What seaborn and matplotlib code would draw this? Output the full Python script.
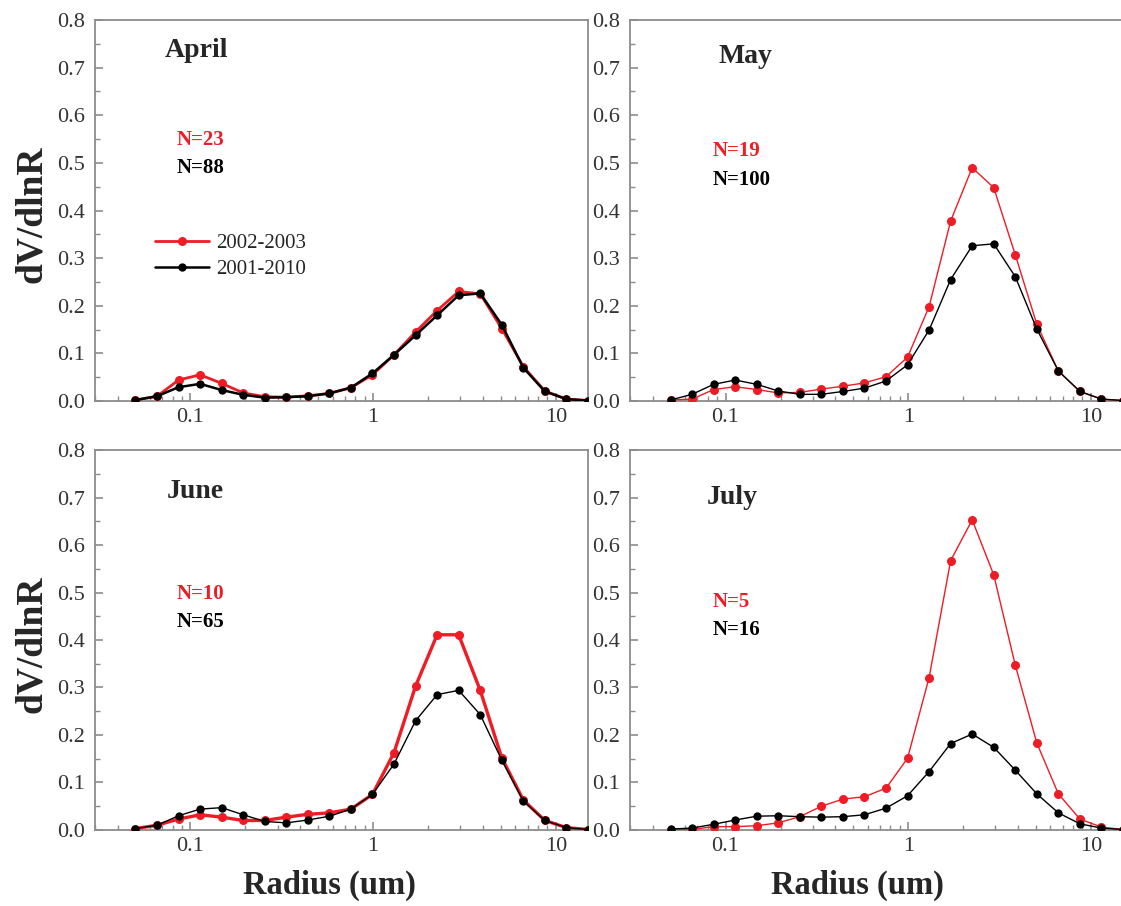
import matplotlib
matplotlib.use("Agg")
import matplotlib.pyplot as plt
import matplotlib.ticker as mticker
import seaborn as sns
import pandas as pd

# AERONET size bins (um)
radius = [0.05, 0.0656, 0.0861, 0.1129, 0.1482, 0.1944, 0.2551, 0.3347, 0.4392,
          0.5762, 0.7561, 0.9920, 1.3016, 1.7078, 2.2407, 2.9400, 3.8575, 5.0613,
          6.6407, 8.7131, 11.4323, 15.0]

april_0203 = [0.002, 0.010, 0.044, 0.055, 0.037, 0.017, 0.009, 0.008, 0.011, 0.016, 0.028,
              0.055, 0.097, 0.145, 0.190, 0.230, 0.225, 0.152, 0.072, 0.021, 0.004, 0.001]
april_0110 = [0.002, 0.010, 0.029, 0.036, 0.023, 0.013, 0.007, 0.008, 0.010, 0.016, 0.028,
              0.058, 0.097, 0.138, 0.180, 0.222, 0.226, 0.160, 0.070, 0.020, 0.004, 0.001]

may_0203 = [0.002, 0.004, 0.024, 0.030, 0.024, 0.017, 0.018, 0.025, 0.031, 0.038, 0.051,
            0.092, 0.198, 0.378, 0.490, 0.448, 0.307, 0.161, 0.063, 0.020, 0.004, 0.001]
may_0110 = [0.002, 0.014, 0.035, 0.044, 0.035, 0.021, 0.014, 0.014, 0.020, 0.027, 0.042,
            0.076, 0.149, 0.255, 0.326, 0.330, 0.261, 0.151, 0.063, 0.020, 0.004, 0.001]

june_0203 = [0.003, 0.010, 0.023, 0.032, 0.027, 0.020, 0.020, 0.027, 0.033, 0.036, 0.044,
             0.075, 0.163, 0.303, 0.411, 0.411, 0.294, 0.152, 0.063, 0.020, 0.005, 0.001]
june_0110 = [0.003, 0.010, 0.030, 0.044, 0.047, 0.032, 0.018, 0.015, 0.021, 0.029, 0.044,
             0.075, 0.139, 0.230, 0.285, 0.294, 0.243, 0.147, 0.061, 0.020, 0.005, 0.001]

july_0203 = [0.000, 0.001, 0.007, 0.007, 0.009, 0.015, 0.028, 0.050, 0.065, 0.070, 0.088,
             0.151, 0.321, 0.567, 0.653, 0.537, 0.347, 0.183, 0.076, 0.023, 0.006, 0.001]
july_0110 = [0.002, 0.004, 0.012, 0.021, 0.029, 0.030, 0.028, 0.027, 0.028, 0.032, 0.046,
             0.072, 0.123, 0.182, 0.202, 0.174, 0.126, 0.076, 0.036, 0.013, 0.004, 0.001]

months = ["April", "May", "June", "July"]
n_0203 = ["N=23", "N=19", "N=10", "N=5"]
n_0110 = ["N=88", "N=100", "N=65", "N=16"]
series_0203 = [april_0203, may_0203, june_0203, july_0203]
series_0110 = [april_0110, may_0110, june_0110, july_0110]

RED = "#ee1c24"
GREY = "#8c8c8c"

sns.set_style("ticks")
plt.rcParams["font.family"] = ["Liberation Serif", "DejaVu Serif"]

fig = plt.figure(figsize=(11.21, 9.06), dpi=100)

# axes rectangles [left, bottom, width, height]
rects = [[0.0847, 0.5574, 0.4398, 0.4205],
         [0.5620, 0.5574, 0.4398, 0.4205],
         [0.0847, 0.0839, 0.4398, 0.4194],
         [0.5620, 0.0839, 0.4398, 0.4194]]
# line widths per panel (red, black)
widths = [(2.0, 1.8), (1.0, 1.0), (2.4, 1.0), (1.0, 1.0)]
# text positions in axes fraction: month, red N, black N
month_pos = [(0.142, 0.921), (0.18, 0.903), (0.146, 0.892), (0.156, 0.876)]
n_pos = [(0.166, 0.685, 0.612), (0.168, 0.655, 0.581), (0.166, 0.62, 0.547), (0.168, 0.60, 0.527)]
xlabel_x = {2: 0.475, 3: 0.462}

for i, rect in enumerate(rects):
    ax = fig.add_axes(rect)
    df_red = pd.DataFrame({"radius": radius, "dv": series_0203[i]})
    df_blk = pd.DataFrame({"radius": radius, "dv": series_0110[i]})
    lw_r, lw_k = widths[i]
    sns.lineplot(data=df_red, x="radius", y="dv", ax=ax, color=RED, lw=lw_r,
                 marker="o", markersize=6.5, markeredgewidth=0, sort=False,
                 estimator=None, label="2002-2003", zorder=3)
    sns.lineplot(data=df_blk, x="radius", y="dv", ax=ax, color="black", lw=lw_k,
                 marker="o", markersize=6, markeredgewidth=0, sort=False,
                 estimator=None, label="2001-2010", zorder=4)

    ax.set_xscale("log")
    ax.set_xlim(0.03, 15)
    ax.set_ylim(0, 0.8)
    ax.xaxis.set_major_locator(mticker.FixedLocator([0.1, 1, 10]))
    ax.xaxis.set_major_formatter(mticker.FixedFormatter(["0.1", "1", "10"]))
    ax.xaxis.set_minor_locator(mticker.LogLocator(base=10, subs=range(2, 10)))
    ax.xaxis.set_minor_formatter(mticker.NullFormatter())
    ax.yaxis.set_major_locator(mticker.MultipleLocator(0.1))
    ax.yaxis.set_minor_locator(mticker.MultipleLocator(0.05))
    ax.yaxis.set_major_formatter(mticker.FormatStrFormatter("%.1f"))
    ax.tick_params(which="both", direction="in", color=GREY, labelsize=16,
                   labelcolor="#333333", top=False, right=False)
    ax.tick_params(which="major", length=6, width=1.2)
    ax.tick_params(which="minor", length=3.5, width=1.0)
    ax.tick_params(axis="y", pad=7)
    ax.tick_params(axis="x", pad=5)
    for sp in ax.spines.values():
        sp.set_color(GREY)
        sp.set_linewidth(1.3)

    if i == 0:
        ax.legend(loc="center left", bbox_to_anchor=(0.122, 0.38), frameon=False,
                  fontsize=15, handlelength=2.6, handletextpad=0.35,
                  labelspacing=0.3, borderpad=0, borderaxespad=0)
    else:
        ax.get_legend().remove()

    if i in (0, 2):
        ax.set_ylabel("dV/dlnR", fontsize=27, fontweight="bold")
        ax.yaxis.set_label_coords(-0.094, 0.49)
    else:
        ax.set_ylabel("")
    if i in (2, 3):
        ax.set_xlabel("Radius (um)", fontsize=23.5, fontweight="bold")
        ax.xaxis.set_label_coords(xlabel_x[i], -0.105)
    else:
        ax.set_xlabel("")

    mx, my = month_pos[i]
    ax.text(mx, my, months[i], transform=ax.transAxes, fontsize=20,
            fontweight="bold", ha="left", va="center")
    nx, ny1, ny2 = n_pos[i]
    ax.text(nx, ny1, n_0203[i], transform=ax.transAxes, fontsize=15,
            fontweight="bold", color=RED, ha="left", va="center")
    ax.text(nx, ny2, n_0110[i], transform=ax.transAxes, fontsize=15,
            fontweight="bold", color="black", ha="left", va="center")

fig.savefig("out.png", dpi=100)
